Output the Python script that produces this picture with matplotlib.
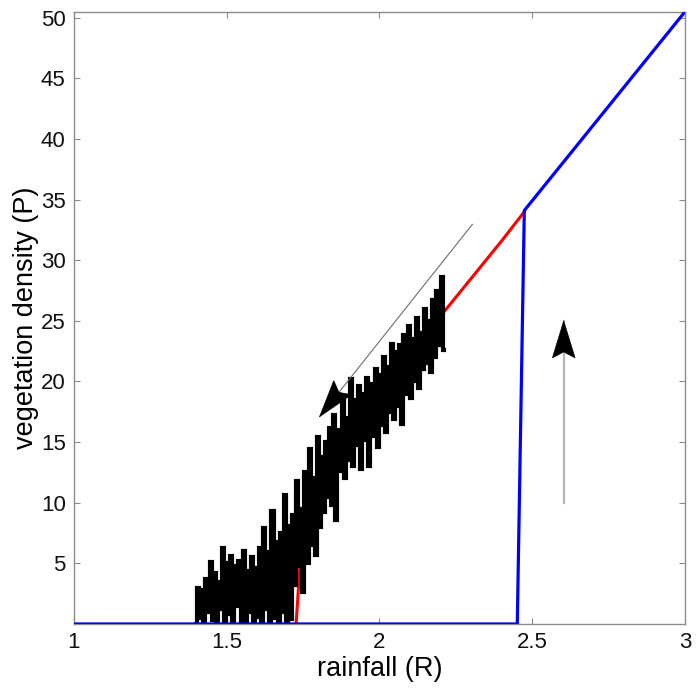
import numpy as np
import matplotlib
matplotlib.use("Agg")
import matplotlib.pyplot as plt
from matplotlib.patches import Polygon
from matplotlib.transforms import IdentityTransform

plt.rcParams['font.family'] = ['Liberation Sans', 'DejaVu Sans']
plt.rcParams['path.simplify'] = False

# DATA
# blue branch (rainfall increasing): bare state then jump to vegetated
blue_R = [1.0, 2.451, 2.474, 3.0]
blue_P = [0.0, 0.0, 34.1, 50.5]

# red branch (vegetated state)
red_R = [1.727, 1.740, 1.77, 1.82, 1.90, 2.00, 2.10, 2.20, 2.30, 2.40, 2.474]
red_P = [0.0, 5.0, 8.2, 11.5, 15.2, 18.9, 22.3, 25.4, 28.5, 31.6, 34.0]

# noisy trace (rainfall decreasing), sampled on an even rainfall grid
noise_R_start = 1.40
noise_R_end = 2.21
noise_P = [
    0.0, 3.0, 0.5, 2.8, 0.0, 3.7, 1.0, 5.1, 0.3, 4.2,
    0.0, 3.5, 1.2, 6.3, 0.0, 5.0, 0.8, 5.6, 0.0, 4.8,
    1.5, 5.2, 0.2, 6.0, 0.0, 4.4, 1.0, 5.5, 0.0, 4.6,
    0.6, 6.3, 0.0, 7.9, 1.2, 5.9, 0.0, 9.3, 0.5, 6.8,
    0.0, 7.5, 1.0, 10.6, 0.0, 8.1, 0.4, 9.0, 3.2, 11.8,
    4.8, 9.5, 2.6, 12.5, 5.0, 14.4, 6.5, 12.0, 5.7, 15.4,
    8.0, 13.8, 9.2, 15.0, 10.5, 16.2, 9.8, 17.2, 8.6, 16.0,
    12.6, 18.4, 12.0, 17.0, 13.5, 20.2, 13.0, 18.5, 14.8, 19.6,
    12.8, 19.0, 15.2, 20.3, 13.0, 19.8, 15.5, 21.0, 14.6, 20.5,
    16.4, 22.0, 15.8, 21.2, 17.5, 23.1, 16.9, 22.4, 18.0, 23.0,
    16.5, 23.8, 19.0, 24.6, 18.6, 23.5, 20.0, 25.2, 19.5, 24.0,
    21.0, 26.0, 21.5, 25.0, 20.8, 26.7, 22.0, 27.5, 23.0, 28.6,
    22.6,
]
noise_R = np.linspace(noise_R_start, noise_R_end, len(noise_P))

# arrows: (start R, start P, tip R, tip P, shaft colour, shaft width)
arrows = [
    (2.304, 32.96, 1.804, 17.1, '#6e6e6e', 0.8),
    (2.603, 10.0, 2.603, 25.0, '#b4b4b4', 1.6),
]

x_ticks = [1, 1.5, 2, 2.5, 3]
x_tick_labels = ['1', '1.5', '2', '2.5', '3']
y_ticks = [5, 10, 15, 20, 25, 30, 35, 40, 45, 50]

# PLOT
fig = plt.figure(figsize=(6.96, 6.92), dpi=100)
ax = fig.add_axes([0.1063, 0.0983, 0.9842 - 0.1063, 0.9831 - 0.0983])

ax.plot(red_R, red_P, color='#ff0000', lw=2.2, zorder=2)
ax.plot(noise_R, noise_P, color='black', lw=3.0, drawstyle='steps-mid',
        solid_joinstyle='miter', zorder=3)
ax.plot(blue_R, blue_P, color='#0000ff', lw=2.3, zorder=4)

ax.set_xlim(1, 3)
ax.set_ylim(0, 50.5)
ax.set_xticks(x_ticks)
ax.set_xticklabels(x_tick_labels)
ax.set_yticks(y_ticks)

for s in ax.spines.values():
    s.set_color('#8c8c8c')
    s.set_linewidth(1.0)
ax.tick_params(direction='in', length=4, width=0.8, color='#8c8c8c',
               labelsize=16, labelcolor='#111111',
               top=True, right=True, pad=6)

ax.set_xlabel('rainfall (R)', fontsize=19.5, labelpad=2)
ax.set_ylabel('vegetation density (P)', fontsize=19.5, labelpad=1)


def arrow_head(ax, tail, tip, length=37, notch=31, half_width=11.3):
    # notched arrow head drawn in pixel space so its shape does not depend on axis scale
    t0 = ax.transData.transform(tail)
    t1 = ax.transData.transform(tip)
    d = (t1 - t0) / np.hypot(*(t1 - t0))
    n = np.array([-d[1], d[0]])
    pts = [t1,
           t1 - d * length + n * half_width,
           t1 - d * notch,
           t1 - d * length - n * half_width]
    ax.add_patch(Polygon(pts, closed=True, facecolor='black', edgecolor='black',
                         lw=0.5, transform=IdentityTransform(), zorder=6))


for r0, p0, r1, p1, col, w in arrows:
    ax.plot([r0, r1], [p0, p1], color=col, lw=w, zorder=5)
    arrow_head(ax, (r0, p0), (r1, p1))

fig.savefig('out.png', dpi=100)
